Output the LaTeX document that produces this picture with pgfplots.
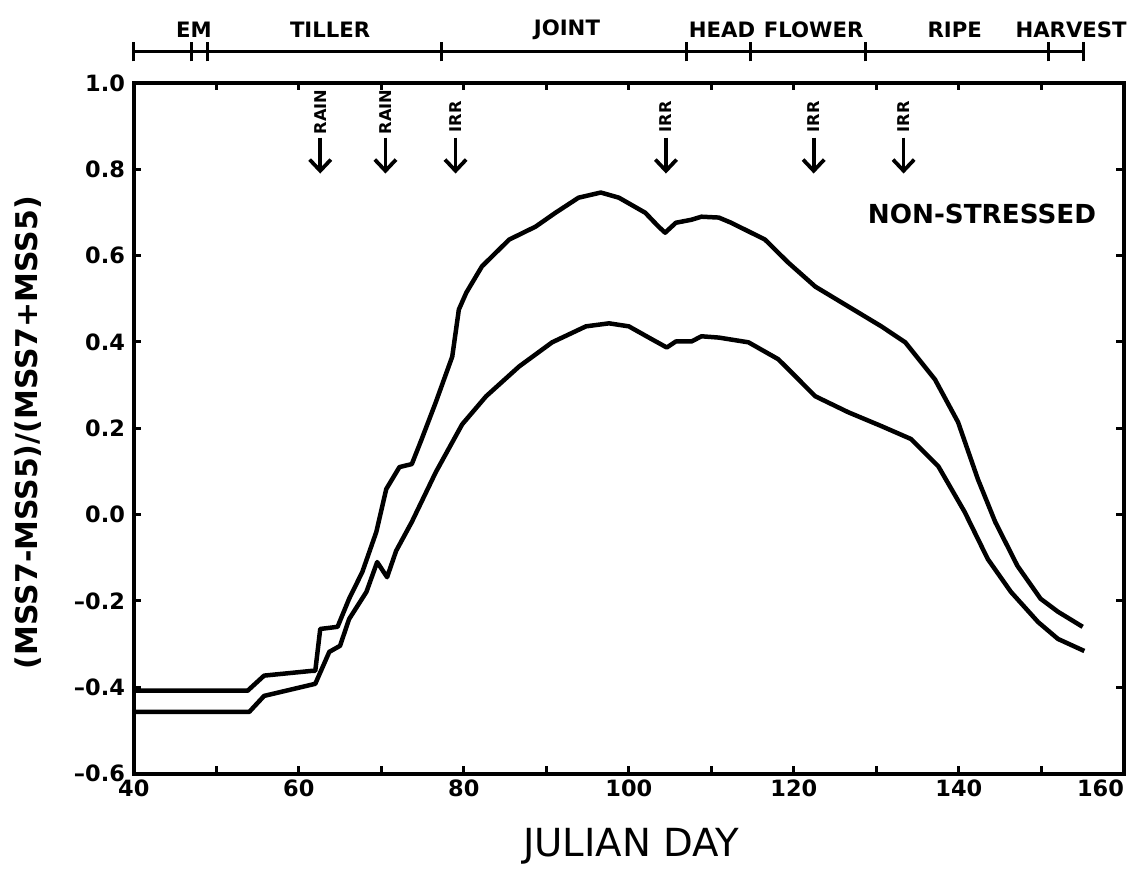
\documentclass[border=0pt]{standalone}
\usepackage{fontspec}
\setmainfont{DejaVu Sans}
\usepackage{pgfplots}
\pgfplotsset{compat=1.18}
\usetikzlibrary{arrows.meta}

% non-stressed canopy, two curves
\pgfplotstableread{
day  v
40    -0.408
53.8  -0.408
55.8  -0.373
61.6  -0.362
62.0  -0.362
62.6  -0.265
64.7  -0.260
66.1  -0.195
67.7  -0.133
69.4  -0.040
70.6   0.059
72.2   0.110
73.7   0.117
74.9   0.175
76.6   0.260
78.6   0.366
79.4   0.475
80.3   0.514
82.2   0.575
85.5   0.637
88.7   0.667
91.1   0.699
93.9   0.734
96.6   0.746
98.8   0.734
102.0  0.699
103.6  0.667
104.4  0.653
105.7  0.676
107.6  0.683
108.8  0.690
110.9  0.688
112.4  0.676
116.5  0.637
119.3  0.584
122.6  0.528
126.6  0.482
130.6  0.436
133.5  0.399
137.1  0.313
139.9  0.214
142.3  0.082
144.4 -0.017
147.1 -0.119
149.9 -0.195
152.0 -0.225
155.0 -0.260
}\upcurve

\pgfplotstableread{
day  v
40    -0.457
54.0  -0.457
55.8  -0.420
62.0  -0.392
63.7  -0.318
65.0  -0.304
66.1  -0.242
68.2  -0.179
69.5  -0.110
70.7  -0.145
71.8  -0.084
73.7  -0.017
76.6   0.098
79.8   0.209
82.7   0.274
86.7   0.343
90.7   0.399
94.8   0.436
97.6   0.443
100.0  0.436
102.8  0.406
104.6  0.387
105.7  0.401
107.6  0.401
108.8  0.413
110.9  0.410
114.5  0.399
118.1  0.360
119.0  0.343
122.6  0.274
126.6  0.237
130.6  0.205
134.2  0.175
137.5  0.112
140.7  0.006
143.5 -0.103
146.3 -0.179
149.6 -0.249
152.0 -0.288
155.2 -0.316
}\lowcurve

\begin{document}
\begin{tikzpicture}
\begin{axis}[
  scale only axis, width=396.8pt, height=276.8pt,
  xmin=40, xmax=160, ymin=-0.6, ymax=1.0,
  xtick={40,60,80,100,120,140,160},
  xticklabels={40,60,80,100,120,140,\makebox[0pt][r]{160}},
  minor xtick={50,70,90,110,130,150},
  ytick={-0.6,-0.4,-0.2,0,0.2,0.4,0.6,0.8,1.0},
  yticklabels={–0.6,–0.4,–0.2,0.0,0.2,0.4,0.6,0.8,1.0},
  tick align=inside, major tick length=3pt, minor tick length=3pt,
  every tick/.style={black, line width=1.2pt},
  axis line style={line width=1.6pt},
  ticklabel style={font=\bfseries\fontsize{9}{10}\selectfont},
  xticklabel style={yshift=1pt},
  /pgf/number format/assume math mode=true,
  clip=false,
]
\addplot[black, line width=1.8pt, line join=round] table[x=day, y=v] {\upcurve};
\addplot[black, line width=1.8pt, line join=round] table[x=day, y=v] {\lowcurve};

% growth stage bar
\draw[line width=1.2pt] (axis cs:40,1.072) -- (axis cs:155.1,1.072);
\draw[line width=1.2pt] (axis cs:40,1.050) -- (axis cs:40,1.094);
\draw[line width=1.2pt] (axis cs:47.0,1.050) -- (axis cs:47.0,1.094);
\draw[line width=1.2pt] (axis cs:48.9,1.050) -- (axis cs:48.9,1.094);
\draw[line width=1.2pt] (axis cs:77.3,1.050) -- (axis cs:77.3,1.094);
\draw[line width=1.2pt] (axis cs:107.0,1.050) -- (axis cs:107.0,1.094);
\draw[line width=1.2pt] (axis cs:114.8,1.050) -- (axis cs:114.8,1.094);
\draw[line width=1.2pt] (axis cs:128.7,1.050) -- (axis cs:128.7,1.094);
\draw[line width=1.2pt] (axis cs:150.9,1.050) -- (axis cs:150.9,1.094);
\draw[line width=1.2pt] (axis cs:155.1,1.050) -- (axis cs:155.1,1.094);

\begin{scope}[font=\bfseries\fontsize{8.5}{9}\selectfont]
\node at (axis cs:47.3,1.122) {EM};
\node at (axis cs:63.8,1.122) {TILLER};
\node at (axis cs:92.5,1.122) {JOINT};
\node at (axis cs:111.3,1.122) {HEAD};
\node at (axis cs:122.4,1.122) {FLOWER};
\node at (axis cs:139.5,1.122) {RIPE};
\node at (axis cs:153.6,1.122) {HARVEST};
\end{scope}

% rain and irrigation events
\begin{scope}[line width=1.5pt, -{Straight Barb[length=4.5pt,width=8.5pt]}]
\draw (axis cs:62.6,0.873) -- (axis cs:62.6,0.790);
\draw (axis cs:70.5,0.873) -- (axis cs:70.5,0.790);
\draw (axis cs:79.0,0.873) -- (axis cs:79.0,0.790);
\draw (axis cs:104.5,0.873) -- (axis cs:104.5,0.790);
\draw (axis cs:122.4,0.873) -- (axis cs:122.4,0.790);
\draw (axis cs:133.3,0.873) -- (axis cs:133.3,0.790);
\end{scope}
\begin{scope}[font=\bfseries\fontsize{6.5}{6.5}\selectfont, inner sep=0pt]
\node[rotate=90] at (axis cs:62.6,0.933) {RAIN};
\node[rotate=90] at (axis cs:70.5,0.933) {RAIN};
\node[rotate=90] at (axis cs:79.0,0.921) {IRR};
\node[rotate=90] at (axis cs:104.5,0.921) {IRR};
\node[rotate=90] at (axis cs:122.4,0.921) {IRR};
\node[rotate=90] at (axis cs:133.3,0.921) {IRR};
\end{scope}

\node[font=\bfseries\fontsize{10.5}{12}\selectfont] at (axis cs:142.8,0.697) {NON-STRESSED};
\node[rotate=90, font=\bfseries\fontsize{12}{13}\selectfont] at (axis cs:27.2,0.190) {(MSS7-MSS5)/(MSS7+MSS5)};
\node[font=\fontsize{15.5}{17}\selectfont] at (axis cs:100.3,-0.769) {JULIAN DAY};

\coordinate (bbsw) at (axis cs:23.79,-0.840);
\coordinate (bbne) at (axis cs:161.08,1.192);
\end{axis}
\path (bbsw) rectangle (bbne);
\end{tikzpicture}
\end{document}
